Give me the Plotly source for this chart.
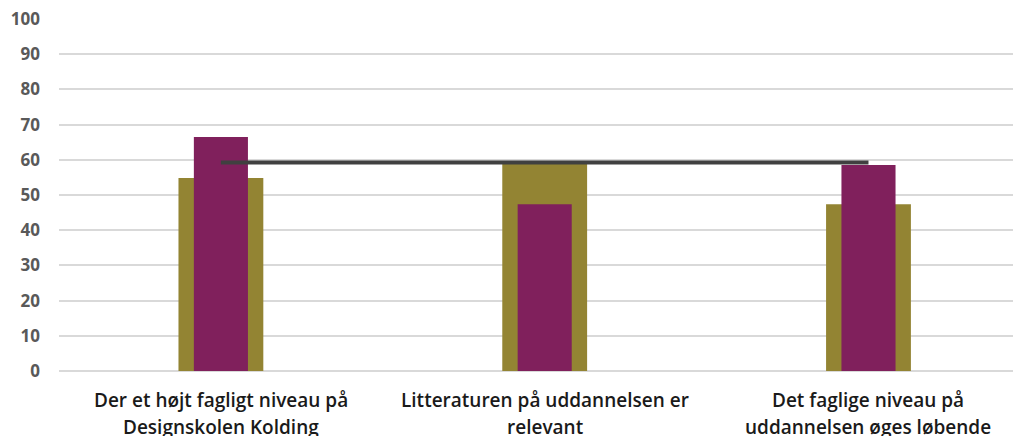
import plotly.graph_objects as go

categories = [
    "Der et højt fagligt niveau på<br>Designskolen Kolding",
    "Litteraturen på uddannelsen er<br>relevant",
    "Det faglige niveau på<br>uddannelsen øges løbende",
]
olive_values = [54.8, 58.8, 47.4]
purple_values = [66.5, 47.4, 58.5]
line_values = [59.2, 59.2, 59.2]
y_ticks = list(range(0, 101, 10))

x = [0, 1, 2]

fig = go.Figure()
fig.add_trace(go.Bar(x=x, y=olive_values, width=0.262, marker=dict(color="#938433", line=dict(width=0)), name="A"))
fig.add_trace(go.Bar(x=x, y=purple_values, width=0.167, marker=dict(color="#80205c", line=dict(width=0)), name="B"))
fig.add_trace(go.Scatter(x=x, y=line_values, mode="lines", line=dict(color="#404040", width=4), name="C"))

# category labels as two-line annotations (for line spacing control)
line_y = [-0.082, -0.160]
for xi, label in zip(x, categories):
    for li, part in enumerate(label.split("<br>")):
        fig.add_annotation(
            x=xi, y=line_y[li], xref="x", yref="paper",
            text=part, showarrow=False, xanchor="center", yanchor="middle",
            font=dict(family="Open Sans", size=19, color="#1a1a1a", weight=600),
        )

fig.update_layout(
    width=1021, height=436,
    margin=dict(l=51, r=8, t=11, b=73, autoexpand=False),
    barmode="overlay",
    showlegend=False,
    plot_bgcolor="white", paper_bgcolor="white",
)
fig.update_xaxes(
    tickvals=x, showticklabels=False,
    range=[-0.5, 2.471],
    showgrid=False, zeroline=False, showline=False,
    ticks="", automargin=False,
)
fig.update_yaxes(
    range=[0, 100], tickvals=y_ticks,
    showgrid=True, gridcolor="#d9d9d9", gridwidth=2,
    zeroline=True, zerolinecolor="#d9d9d9", zerolinewidth=2,
    tickfont=dict(family="Open Sans", size=17, color="#595959", weight="bold"),
    ticklabelstandoff=18,
    ticklabeloverflow="allow",
    ticks="", automargin=False,
)
fig.write_html("out.html")
